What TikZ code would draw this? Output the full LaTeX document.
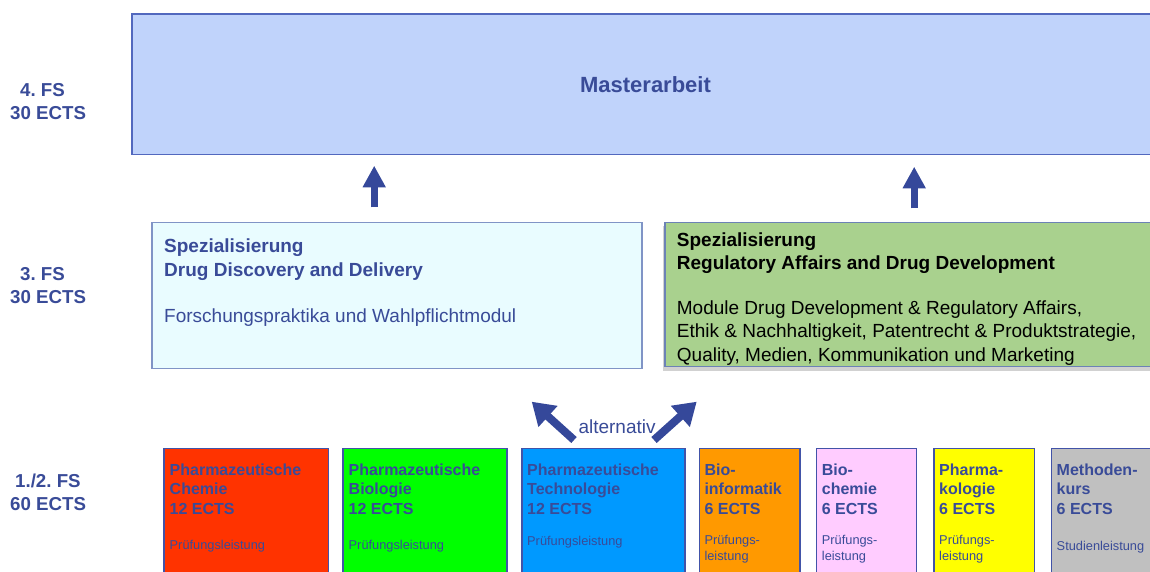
\documentclass[tikz,border=0pt]{standalone}
\usepackage{fontspec}
\setmainfont{Liberation Sans}
\frenchspacing
\usetikzlibrary{arrows.meta}
\definecolor{txt}{HTML}{394B98}
\definecolor{arrowc}{HTML}{35489A}
\definecolor{mafill}{HTML}{C0D3FB}
\definecolor{maline}{HTML}{5268BE}
\definecolor{ddfill}{HTML}{E9FCFF}
\definecolor{ddline}{HTML}{8094C6}
\definecolor{rafill}{HTML}{A9D18E}
\definecolor{raline}{HTML}{6C82B6}
\definecolor{bline}{HTML}{4253A8}
\definecolor{cred}{HTML}{FF3300}
\definecolor{cgreen}{HTML}{00FF00}
\definecolor{cblue}{HTML}{0099FF}
\definecolor{corange}{HTML}{FF9900}
\definecolor{cpink}{HTML}{FFCCFF}
\definecolor{cyellow}{HTML}{FFFF00}
\definecolor{cgray}{HTML}{C0C0C0}
\tikzset{
  boxbase/.style={draw, rectangle, inner sep=0pt, outer sep=0pt, anchor=north west, line width=1.1pt},
  modbox/.style={boxbase, draw=bline, minimum height=160pt},
  tl/.style={inner sep=0pt, anchor=base west, text=txt},
  lab/.style={tl, font=\fontsize{18.7}{22}\selectfont\bfseries},
  spt/.style={tl, font=\fontsize{19}{23}\selectfont\bfseries},
  spb/.style={tl, font=\fontsize{19}{23}\selectfont},
  mt/.style={tl, font=\fontsize{16}{19.5}\selectfont\bfseries},
  ms/.style={tl, font=\fontsize{12.8}{14.5}\selectfont},
  uparrow/.style={draw=arrowc, line width=6.7pt, -{Triangle[length=21.6pt,width=21.7pt]}, arrowc},
  altarrow/.style={draw=arrowc, line width=8pt, -{Triangle[length=22pt,width=27pt]}, arrowc},
}
\begin{document}
\begin{tikzpicture}[x=1pt,y=-1pt]
\useasboundingbox (0,0) rectangle (1150,571);
\clip (0,0) rectangle (1150,571);
\fill[white] (0,0) rectangle (1150,571);

% semester labels
\node[lab] (l4a) at (20,96.5) {4. FS};
\node[lab] (l4b) at (10,119) {30 ECTS};
\node[lab] (l3a) at (20,280) {3. FS};
\node[lab] (l3b) at (10,303.3) {30 ECTS};
\node[lab] (l1a) at (15,487.3) {1./2. FS};
\node[lab] (l1b) at (10,510.7) {60 ECTS};

% Masterarbeit
\node[boxbase, draw=maline, fill=mafill, minimum width=1040pt, minimum height=140.3pt] (ma) at (132,14) {};
\node[inner sep=0pt, anchor=base, text=txt, font=\fontsize{22}{26}\selectfont\bfseries] (matxt) at (645.5,92) {Masterarbeit};

% Spezialisierung boxes
\node[boxbase, draw=ddline, fill=ddfill, minimum width=490pt, minimum height=146pt] (dd) at (152,222.3) {};
\fill[black, opacity=0.18] (662.5,226) rectangle (1160,370.5);
\node[boxbase, draw=raline, fill=rafill, minimum width=500pt, minimum height=144pt] (ra) at (665,222.7) {};

\node[spt] (dd1) at (164,252.7) {Spezialisierung};
\node[spt] (dd2) at (164,276) {Drug Discovery and Delivery};
\node[spb] (dd3) at (164,322.3) {Forschungspraktika und Wahlpflichtmodul};

\node[spt, text=black] (ra1) at (676.7,246) {Spezialisierung};
\node[spt, text=black] (ra2) at (676.7,269) {Regulatory Affairs and Drug Development};
\node[spb, text=black] (ra3) at (676.7,314) {Module Drug Development \& Regulatory Affairs,};
\node[spb, text=black] (ra4) at (676.7,337.5) {Ethik \& Nachhaltigkeit, Patentrecht \& Produktstrategie,};
\node[spb, text=black] (ra5) at (676.7,361) {Quality, Medien, Kommunikation und Marketing};

% arrows to Masterarbeit
\coordinate (a1s) at (374.2,207.3);
\coordinate (a1e) at (374.2,165.7);
\coordinate (a2s) at (914.2,208.3);
\coordinate (a2e) at (914.2,166.7);
\draw[uparrow] (a1s) -- (a1e);
\draw[uparrow] (a2s) -- (a2e);

% module boxes
\node[modbox, fill=cred, minimum width=164.2pt] (b1) at (164,448.5) {};
\node[modbox, fill=cgreen, minimum width=164pt] (b2) at (343,448.5) {};
\node[modbox, fill=cblue, minimum width=163pt] (b3) at (522,448.5) {};
\node[modbox, fill=corange, minimum width=100.7pt] (b4) at (699.3,448.5) {};
\node[modbox, fill=cpink, minimum width=100pt] (b5) at (816.7,448.5) {};
\node[modbox, fill=cyellow, minimum width=100.3pt] (b6) at (934,448.5) {};
\node[modbox, fill=cgray, minimum width=120pt] (b7) at (1051.7,448.5) {};

% alternativ arrows
\coordinate (alt1s) at (574,440);
\coordinate (alt1e) at (531.7,401.7);
\coordinate (alt2s) at (654,440);
\coordinate (alt2e) at (696.7,401.7);
\draw[altarrow] (alt1s) -- (alt1e);
\draw[altarrow] (alt2s) -- (alt2e);
\node[tl, font=\fontsize{19}{23}\selectfont] (alt) at (578.3,433.5) {alternativ};

% module texts
\node[mt] (b1t1) at (169.5,475) {Pharmazeutische};
\node[mt] (b1t2) at (169.5,494.5) {Chemie};
\node[mt] (b1t3) at (169.5,514) {12 ECTS};
\node[ms] (b1t4) at (169.5,549) {Prüfungsleistung};

\node[mt] (b2t1) at (348.5,475) {Pharmazeutische};
\node[mt] (b2t2) at (348.5,494.5) {Biologie};
\node[mt] (b2t3) at (348.5,514) {12 ECTS};
\node[ms] (b2t4) at (348.5,549) {Prüfungsleistung};

\node[mt] (b3t1) at (527,475) {Pharmazeutische};
\node[mt] (b3t2) at (527,494.5) {Technologie};
\node[mt] (b3t3) at (527,514) {12 ECTS};
\node[ms] (b3t4) at (527,545.5) {Prüfungsleistung};

\node[mt] (b4t1) at (704.3,475) {Bio-};
\node[mt] (b4t2) at (704.3,494.5) {informatik};
\node[mt] (b4t3) at (704.3,514) {6 ECTS};
\node[ms] (b4t4) at (704.3,544.5) {Prüfungs-};
\node[ms] (b4t5) at (704.3,560.5) {leistung};

\node[mt] (b5t1) at (821.7,475) {Bio-};
\node[mt] (b5t2) at (821.7,494.5) {chemie};
\node[mt] (b5t3) at (821.7,514) {6 ECTS};
\node[ms] (b5t4) at (821.7,544.5) {Prüfungs-};
\node[ms] (b5t5) at (821.7,560.5) {leistung};

\node[mt] (b6t1) at (939,475) {Pharma-};
\node[mt] (b6t2) at (939,494.5) {kologie};
\node[mt] (b6t3) at (939,514) {6 ECTS};
\node[ms] (b6t4) at (939,544.5) {Prüfungs-};
\node[ms] (b6t5) at (939,560.5) {leistung};

\node[mt] (b7t1) at (1056.5,475) {Methoden-};
\node[mt] (b7t2) at (1056.5,494.5) {kurs};
\node[mt] (b7t3) at (1056.5,514) {6 ECTS};
\node[ms] (b7t4) at (1056.5,550) {Studienleistung};
\end{tikzpicture}
\end{document}
